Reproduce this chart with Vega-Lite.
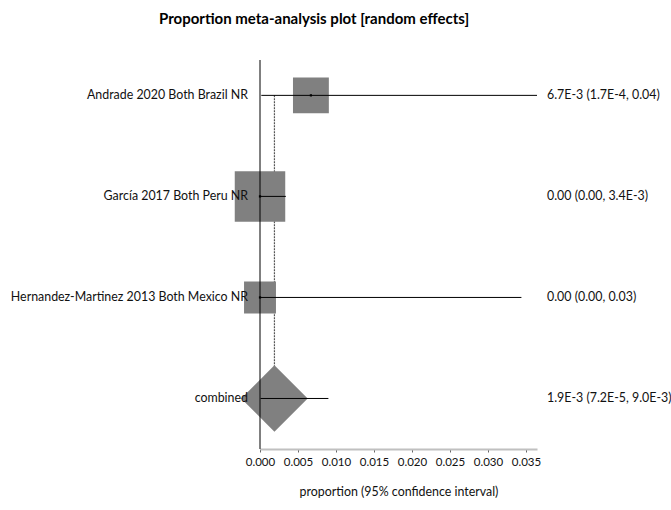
{
  "$schema": "https://vega.github.io/schema/vega-lite/v6.json",
  "autosize": "none",
  "width": 277,
  "height": 389,
  "padding": {"left": 260, "top": 60, "right": 134, "bottom": 61},
  "background": "white",
  "title": {
    "text": "Proportion meta-analysis plot [random effects]",
    "font": "Lato",
    "fontSize": 15,
    "fontWeight": "bold",
    "color": "#000000",
    "anchor": "start",
    "frame": "group",
    "dx": -101,
    "offset": 33
  },
  "config": {
    "view": {"stroke": null},
    "text": {"font": "Lato", "fontSize": 12.4, "color": "#111111"},
    "axisX": {
      "tickCount": 8, "format": ".3f", "grid": false,
      "labelOverlap": false, "labelFlush": false, "labelBound": false,
      "domainColor": "#c0c0c0", "domainWidth": 2, "tickColor": "#666666", "tickSize": 3,
      "labelFont": "Lato", "labelFontSize": 11.5, "labelColor": "#111111", "labelPadding": 4,
      "titleFont": "Lato", "titleFontSize": 12.4, "titleFontWeight": "normal", "titleColor": "#111111", "titlePadding": 18
    }
  },
  "data": {
    "values": [
      {"study": "Andrade 2020 Both Brazil NR", "row": 1, "est": 0.0067, "lo": 0.00017, "hi": 0.04, "w": 26.5, "label": "6.7E-3 (1.7E-4, 0.04)", "type": "study"},
      {"study": "García 2017 Both Peru NR", "row": 2, "est": 0.0, "lo": 0.0, "hi": 0.0034, "w": 52.5, "label": "0.00 (0.00, 3.4E-3)", "type": "study"},
      {"study": "Hernandez-Martinez 2013 Both Mexico NR", "row": 3, "est": 0.0, "lo": 0.0, "hi": 0.0344, "w": 21, "label": "0.00 (0.00, 0.03)", "type": "study"},
      {"study": "combined", "row": 4, "est": 0.0019, "lo": 0.000072, "hi": 0.009, "w": 100, "label": "1.9E-3 (7.2E-5, 9.0E-3)", "type": "pooled"}
    ]
  },
  "encoding": {
    "y": {"field": "row", "type": "quantitative", "scale": {"domain": [0.65, 4.5], "reverse": true, "nice": false, "zero": false}, "axis": null}
  },
  "layer": [
    {
      "transform": [{"filter": "datum.type === 'pooled'"}],
      "mark": {"type": "rule", "color": "#555555", "strokeWidth": 1.2, "strokeDash": [2, 1]},
      "encoding": {
        "x": {"field": "est", "type": "quantitative", "scale": {"domain": [0, 0.03645], "nice": false, "zero": false},
          "title": "proportion (95% confidence interval)"},
        "y": {"datum": 1, "type": "quantitative"},
        "y2": {"field": "row"}
      }
    },
    {
      "transform": [{"filter": "datum.type === 'study'"}],
      "mark": {"type": "point", "shape": "square", "filled": true, "color": "#808080", "opacity": 1},
      "encoding": {
        "x": {"field": "est", "type": "quantitative"},
        "size": {"field": "w", "type": "quantitative", "scale": {"domain": [0, 100], "range": [0, 4857]}, "legend": null}
      }
    },
    {
      "transform": [{"filter": "datum.type === 'pooled'"}],
      "mark": {"type": "point", "shape": "diamond", "filled": true, "color": "#808080", "opacity": 1, "size": 4422},
      "encoding": {
        "x": {"field": "est", "type": "quantitative"}
      }
    },
    {
      "transform": [{"filter": "datum.type === 'study'"}],
      "mark": {"type": "rule", "color": "#000000", "strokeWidth": 1, "clip": true},
      "encoding": {
        "x": {"field": "lo", "type": "quantitative"},
        "x2": {"field": "hi"}
      }
    },
    {
      "transform": [{"filter": "datum.type === 'pooled'"}],
      "mark": {"type": "rule", "color": "#000000", "strokeWidth": 1},
      "encoding": {
        "x": {"field": "lo", "type": "quantitative"},
        "x2": {"field": "hi"}
      }
    },
    {
      "transform": [{"filter": "datum.type === 'pooled'"}],
      "mark": {"type": "rule", "color": "#000000", "strokeWidth": 1},
      "encoding": {"x": {"datum": 0, "type": "quantitative"}, "y": null}
    },
    {
      "transform": [{"filter": "datum.type === 'study'"}],
      "mark": {"type": "point", "shape": "square", "filled": true, "color": "#000000", "opacity": 1, "size": 5},
      "encoding": {
        "x": {"field": "est", "type": "quantitative"}
      }
    },
    {
      "mark": {"type": "text", "align": "right", "baseline": "middle", "dx": -12},
      "encoding": {
        "x": {"datum": 0, "type": "quantitative"},
        "text": {"field": "study"}
      }
    },
    {
      "mark": {"type": "text", "align": "left", "baseline": "middle", "dx": 10},
      "encoding": {
        "x": {"datum": 0.03645, "type": "quantitative"},
        "text": {"field": "label"}
      }
    }
  ]
}
